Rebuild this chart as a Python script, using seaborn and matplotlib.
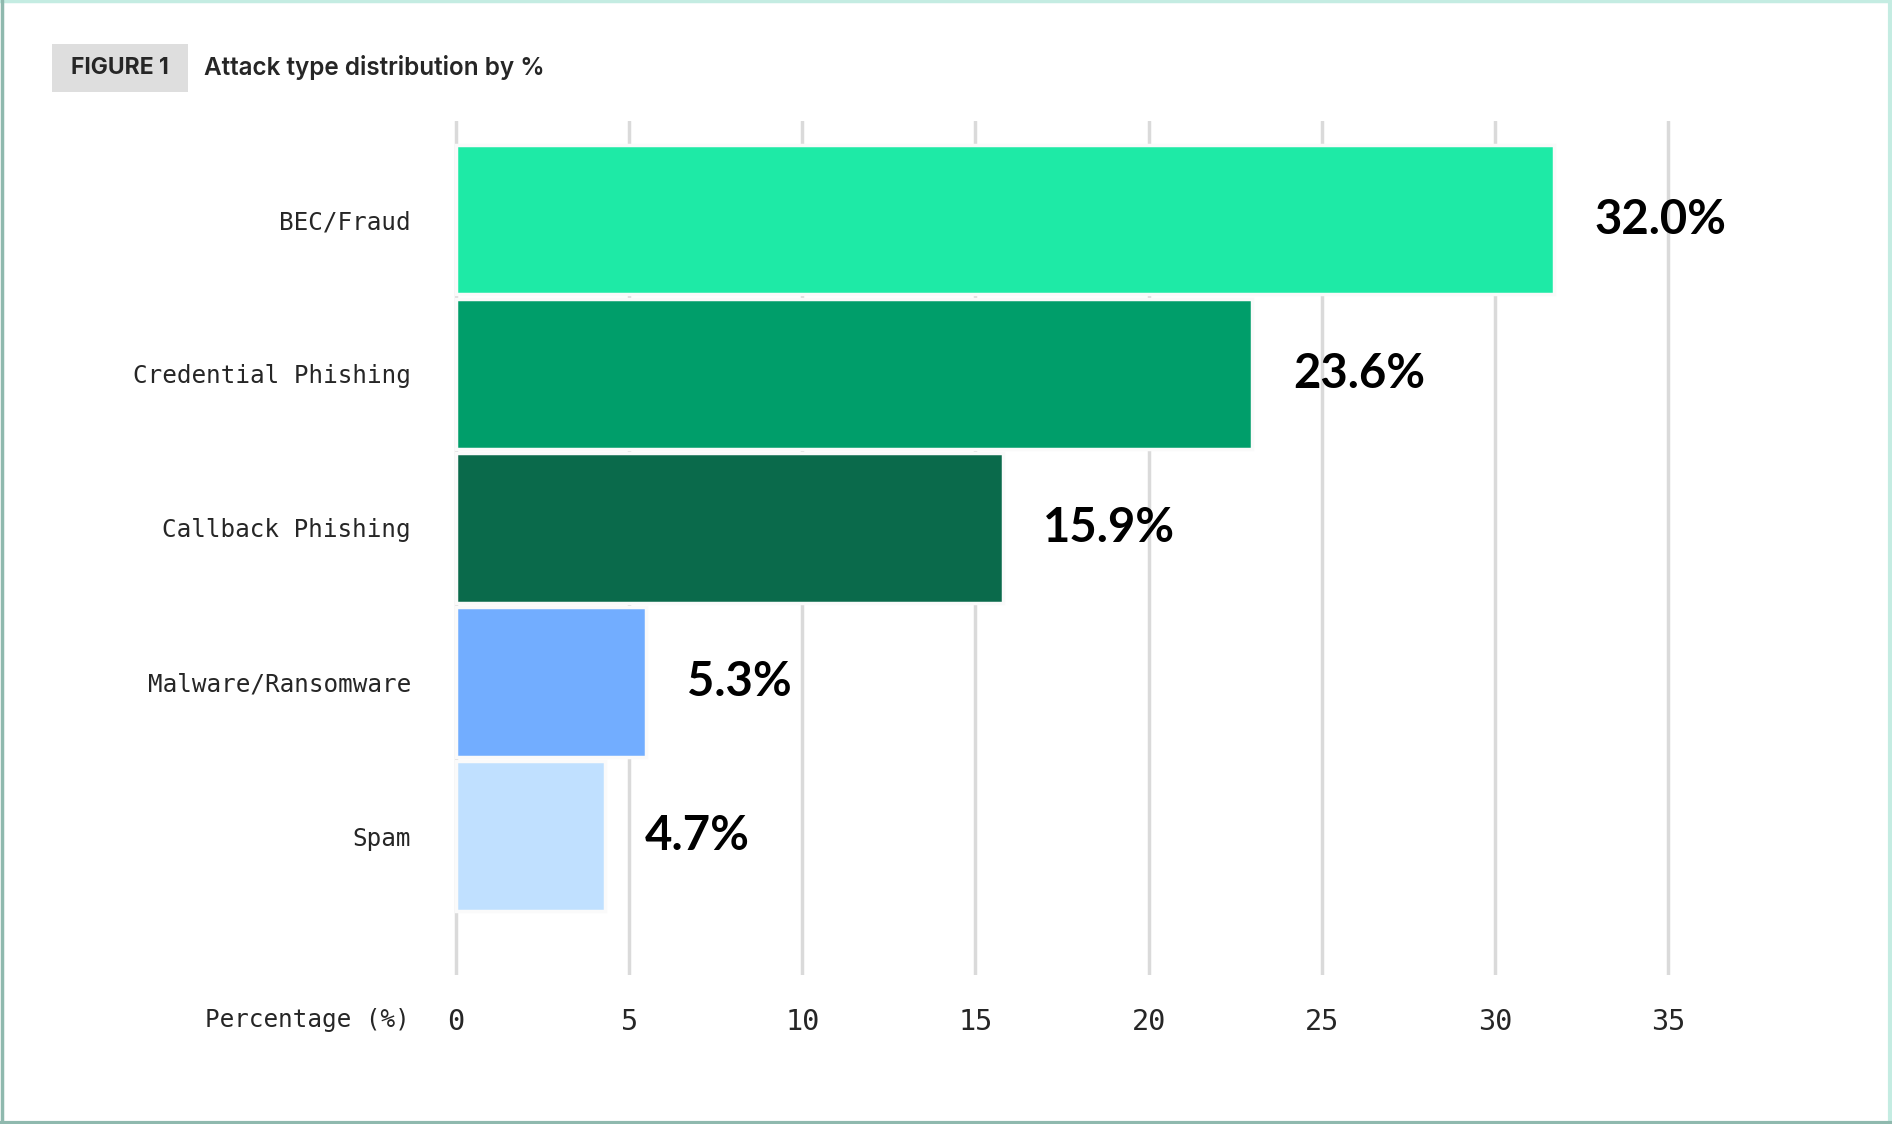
import matplotlib
matplotlib.use("Agg")
import matplotlib.pyplot as plt
import seaborn as sns
from matplotlib.patches import Rectangle
from matplotlib.lines import Line2D

# Data
categories = ["BEC/Fraud", "Credential Phishing", "Callback Phishing",
              "Malware/Ransomware", "Spam"]
bar_values = [31.7, 23.0, 15.8, 5.5, 4.3]
value_labels = ["32.0%", "23.6%", "15.9%", "5.3%", "4.7%"]
bar_colors = ["#1EEAA6", "#009E6A", "#0A6A4B", "#72ADFF", "#C0E0FF"]
x_ticks = [0, 5, 10, 15, 20, 25, 30, 35]

sns.set_style("white")
mono = "DejaVu Sans Mono"
sans = ["Lato", "DejaVu Sans"]
head = ["Inter", "Lato", "DejaVu Sans"]

fig = plt.figure(figsize=(18.92, 11.24), dpi=100)
ax = fig.add_axes([0.2355, 0.1326, 0.6736, 0.7598])

sns.barplot(
    x=bar_values,
    y=categories,
    hue=categories,
    palette=bar_colors,
    saturation=1,
    legend=False,
    width=0.97,
    edgecolor="#fafafa",
    linewidth=2.5,
    ax=ax,
)

ax.set_xlim(-0.3, 36.5)
ax.set_ylim(4.9, -0.64)
ax.set_xticks(x_ticks)
ax.set_xticklabels([str(t) for t in x_ticks], fontfamily=mono, fontsize=20.5)
ax.set_yticks(range(len(categories)))
ax.set_yticklabels(categories, fontfamily=mono, fontsize=17.5)
ax.tick_params(axis="x", length=0, pad=24)
ax.tick_params(axis="y", length=0, pad=25)
ax.set_xlabel("")
ax.set_ylabel("")
ax.grid(axis="x", color="#dadada", linewidth=2.5)
ax.grid(axis="y", visible=False)
ax.set_axisbelow(True)
for s in ax.spines.values():
    s.set_visible(False)

# value labels at the end of each bar
for i, (val, lab) in enumerate(zip(bar_values, value_labels)):
    ax.annotate(lab, xy=(val, i), xytext=(29, 0), textcoords="offset points",
                ha="left", va="center", fontsize=34, fontweight="bold",
                family=sans, color="black")

fig.text(0.2167, 0.0925, "Percentage (%)", ha="right", va="center",
         fontfamily=mono, fontsize=17.5)

# header: tag box + title
fig.add_artist(Rectangle((0.0275, 0.9184), 0.0719, 0.0427,
                         transform=fig.transFigure, facecolor="#DEDEDE",
                         edgecolor="none"))
fig.text(0.0634, 0.9398, "FIGURE 1", ha="center", va="center",
         fontsize=16.5, fontweight="bold", family=head)
fig.text(0.1078, 0.9398, "Attack type distribution by %", ha="left",
         va="center", fontsize=17.5, fontweight="semibold", family=head)

# frame around the figure
fig.add_artist(Line2D([0, 1], [0.999, 0.999], transform=fig.transFigure,
                      color="#C4ECE2", linewidth=2.5))
fig.add_artist(Line2D([0.999, 0.999], [0, 1], transform=fig.transFigure,
                      color="#C4ECE2", linewidth=3))
fig.add_artist(Line2D([0, 1], [0.001, 0.001], transform=fig.transFigure,
                      color="#8FB9AE", linewidth=3))
fig.add_artist(Line2D([0.001, 0.001], [0, 1], transform=fig.transFigure,
                      color="#8FB9AE", linewidth=2.5))

fig.savefig("out.png", dpi=100)
